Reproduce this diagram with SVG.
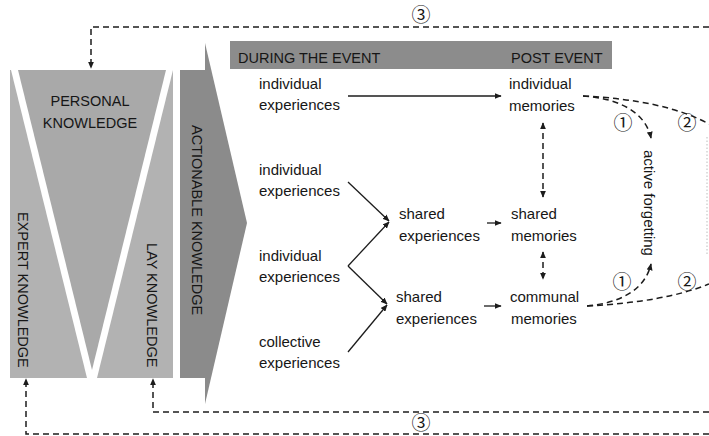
<svg xmlns="http://www.w3.org/2000/svg" width="709" height="436" viewBox="0 0 709 436">
<defs>
<style>
.t{font-family:"Liberation Sans",Arial,sans-serif;font-size:15px;fill:#161616}
.k{font-family:"Liberation Sans",Arial,sans-serif;font-size:14.5px;fill:#161616}
.c{font-family:"Noto Sans CJK JP","DejaVu Sans",sans-serif;font-size:19px;fill:#161616;text-anchor:middle}
.s{fill:none;stroke:#1c1c1c;stroke-width:1.3}
.d{fill:none;stroke:#1c1c1c;stroke-width:1.5;stroke-dasharray:6 4}
</style>
<marker id="ah" viewBox="0 0 10 10" refX="9" refY="5" markerWidth="7" markerHeight="6" markerUnits="userSpaceOnUse" preserveAspectRatio="none" orient="auto-start-reverse">
<path d="M0,0 L10,5 L0,10 z" fill="#1c1c1c"/>
</marker>
</defs>
<rect width="709" height="436" fill="#ffffff"/>

<g id="knowledge-block">
<rect x="10" y="70" width="163" height="308" fill="#b2b2b2"/>
<polygon points="11,70 173,70 97,378 87,378" fill="#ffffff"/>
<polygon points="18,70 166,70 92,370" fill="#a9a9a9"/>
</g>
<g id="personal-knowledge">
<text class="k" x="90" y="106" text-anchor="middle">PERSONAL</text>
<text class="k" x="90" y="128" text-anchor="middle">KNOWLEDGE</text>
</g>
<g id="expert-knowledge">
<text class="k" transform="translate(18,212) rotate(90)">EXPERT KNOWLEDGE</text>
</g>
<g id="lay-knowledge">
<text class="k" transform="translate(147,243) rotate(90)">LAY KNOWLEDGE</text>
</g>
<g id="actionable-knowledge">
<rect x="180" y="70" width="26" height="308" fill="#8b8b8b"/>
<polygon points="205,43 247,223 205,404" fill="#8b8b8b"/>
<text class="k" transform="translate(192,125) rotate(90)">ACTIONABLE KNOWLEDGE</text>
</g>

<g id="header">
<rect x="230" y="41" width="382" height="28" fill="#8c8c8c"/>
<text class="k" x="238" y="63" fill="#111">DURING THE EVENT</text>
<text class="k" x="511" y="63" fill="#111">POST EVENT</text>
</g>

<g id="exp1"><text class="t" x="259" y="89">individual</text><text class="t" x="259" y="110">experiences</text></g>
<g id="exp2"><text class="t" x="259" y="175">individual</text><text class="t" x="259" y="196">experiences</text></g>
<g id="exp3"><text class="t" x="259" y="261">individual</text><text class="t" x="259" y="282">experiences</text></g>
<g id="exp4"><text class="t" x="259" y="347">collective</text><text class="t" x="259" y="368">experiences</text></g>
<g id="shared-exp1"><text class="t" x="399" y="219">shared</text><text class="t" x="399" y="241">experiences</text></g>
<g id="shared-exp2"><text class="t" x="396" y="302">shared</text><text class="t" x="396" y="324">experiences</text></g>
<g id="ind-mem"><text class="t" x="509" y="89">individual</text><text class="t" x="509" y="111">memories</text></g>
<g id="shared-mem"><text class="t" x="511" y="219">shared</text><text class="t" x="511" y="241">memories</text></g>
<g id="communal-mem"><text class="t" x="510" y="302">communal</text><text class="t" x="511" y="324">memories</text></g>
<g id="active-forgetting"><text class="t" transform="translate(644,150) rotate(90)">active forgetting</text></g>

<g id="connectors">
<path class="s" d="M348,96 H501" marker-end="url(#ah)"/>
<path class="s" d="M348,182 L389,221" marker-end="url(#ah)"/>
<path class="s" d="M348,266 L389,222" marker-end="url(#ah)"/>
<path class="s" d="M348,266 L387,304" marker-end="url(#ah)"/>
<path class="s" d="M348,352 L387,305" marker-end="url(#ah)"/>
<path class="s" d="M487,223 H501" marker-end="url(#ah)"/>
<path class="s" d="M484,306 H501" marker-end="url(#ah)"/>
<path class="d" d="M543,123 V197" stroke-dasharray="5 4" marker-start="url(#ah)" marker-end="url(#ah)"/>
<path class="d" d="M543,252 V279" stroke-dasharray="5 4" marker-start="url(#ah)" marker-end="url(#ah)"/>
<path class="d" d="M583,96 C615,98 645,110 651,138" marker-end="url(#ah)"/>
<path class="d" d="M583,96 Q665,100 709,124"/>
<path class="d" d="M587,306 C620,303 645,290 651,264" marker-end="url(#ah)"/>
<path class="d" d="M587,306 Q665,302 709,284"/>
<path class="d" d="M709,27 H91 V68" marker-end="url(#ah)"/>
<path class="d" d="M709,412 H153 V379" marker-end="url(#ah)"/>
<path class="d" d="M709,434 H26 V379" marker-end="url(#ah)"/>
<path d="M707,137 V256" fill="none" stroke="#bdbdbd" stroke-width="1" stroke-dasharray="1.5 2"/>
</g>

<g id="labels">
<text class="c" x="421" y="22">③&#xFE0E;</text>
<text class="c" x="421" y="430">③&#xFE0E;</text>
<text class="c" x="623" y="130">①&#xFE0E;</text>
<text class="c" x="687" y="130">②&#xFE0E;</text>
<text class="c" x="622" y="289">①&#xFE0E;</text>
<text class="c" x="687" y="289">②&#xFE0E;</text>
</g>
</svg>
